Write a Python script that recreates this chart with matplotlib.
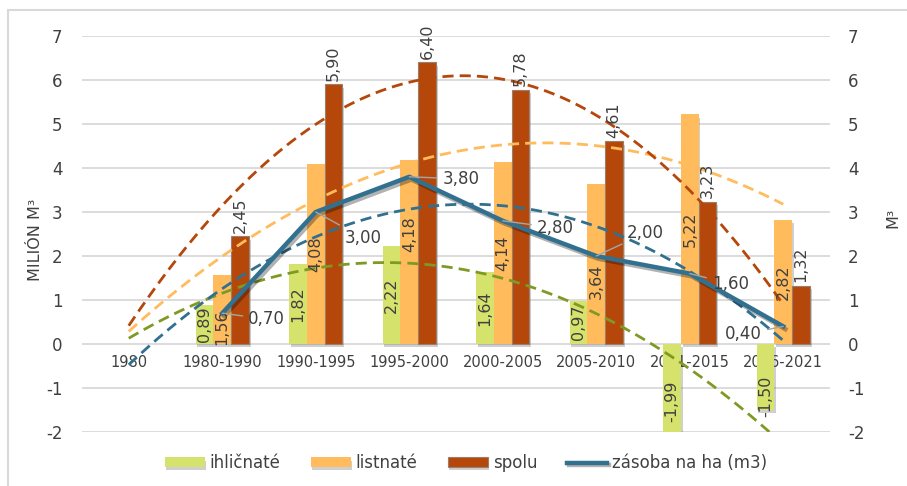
"""Zásoba dreva: prírastok ihličnaté / listnaté / spolu + zásoba na ha."""

import numpy as np
import matplotlib
matplotlib.use("Agg")
import matplotlib.pyplot as plt
import matplotlib.patheffects as pe
from matplotlib.patches import Rectangle

categories = ["1980", "1980-1990", "1990-1995", "1995-2000", "2000-2005",
              "2005-2010", "2011-2015", "2016-2021"]
ihlicnate = [0.89, 1.82, 2.22, 1.64, 0.97, -1.99, -1.50]
listnate = [1.56, 4.08, 4.18, 4.14, 3.64, 5.22, 2.82]
spolu = [2.45, 5.90, 6.40, 5.78, 4.61, 3.23, 1.32]
zasoba = [0.70, 3.00, 3.80, 2.80, 2.00, 1.60, 0.40]

C_GREEN = "#D5E26C"
C_ORANGE = "#FFBB5C"
C_RED = "#B5470B"
C_BLUE = "#31708F"
C_GREEN_TREND = "#7F9A24"
TXT = "#404040"

# manual label nudges (data units) and line-label offsets (pixels)
green_shift = [0, 0, 0, 0, 0, -0.3, -0.45]
orange_shift = [-0.4, 0, 0.4, 0, -0.4, 0, 0]
line_offsets = [(26, -6), (29, -26), (33, -2), (34, -7), (31, 23), (22, -10), (-58, -8)]

plt.rcParams["font.family"] = ["DejaVu Sans"]
plt.rcParams["axes.unicode_minus"] = False


def fmt(v):
    return f"{v:.2f}".replace(".", ",")


fig = plt.figure(figsize=(9.07, 4.86), dpi=100)
fig.patches.append(Rectangle((8 / 907, -0.1), 2, (486 - 10) / 486 + 0.1,
                             transform=fig.transFigure, fill=False,
                             edgecolor="#D9D9D9", lw=1.5))
ax = fig.add_axes([82 / 907, 54 / 486, 748 / 907, 396 / 486])
ax2 = ax.twinx()

x = np.arange(1, len(ihlicnate) + 1)
w = 0.19
shadow = [pe.SimplePatchShadow(offset=(1.2, -2.5), alpha=0.28, shadow_rgbFace="#555555"),
          pe.Normal()]

bars_g = ax.bar(x - w, ihlicnate, w, color=C_GREEN, label="ihličnaté", zorder=2)
bars_o = ax.bar(x, listnate, w, color=C_ORANGE, label="listnaté", zorder=2)
bars_r = ax.bar(x + w, spolu, w, color=C_RED, edgecolor="#9C7F6A", lw=0.8,
                label="spolu", zorder=2)
for b in list(bars_g) + list(bars_o) + list(bars_r):
    b.set_path_effects(shadow)

# polynomial (order 2) trendlines, drawn from the first category
xs = np.linspace(0, len(categories) - 1, 200)
for vals, col, a in [(ihlicnate, C_GREEN_TREND, ax), (listnate, C_ORANGE, ax),
                     (spolu, C_RED, ax), (zasoba, C_BLUE, ax2)]:
    coef = np.polyfit(x, vals, 2)
    a.plot(xs, np.polyval(coef, xs), color=col, lw=2, ls=(0, (4, 2.2)), zorder=3)

ax2.plot(x, zasoba, color=C_BLUE, lw=3.2, zorder=4, label="zásoba na ha (m3)",
         path_effects=[pe.SimpleLineShadow(offset=(1.5, -2), alpha=0.3), pe.Normal()])

# bar labels
for i, v in enumerate(ihlicnate):
    ax.text(x[i] - w, v / 2 + green_shift[i], fmt(v), rotation=90, ha="center",
            va="center", fontsize=11.5, color=TXT, zorder=5)
for i, v in enumerate(listnate):
    ax.text(x[i], v / 2 + orange_shift[i], fmt(v), rotation=90, ha="center",
            va="center", fontsize=11.5, color=TXT, zorder=5)
for i, v in enumerate(spolu):
    ax.text(x[i] + w, v + 0.08, fmt(v), rotation=90, ha="center",
            va="bottom", fontsize=11.5, color=TXT, zorder=5)

# line labels with leader lines
for i, v in enumerate(zasoba):
    dx, dy = line_offsets[i]
    ax2.annotate(fmt(v), (x[i], v), xytext=(dx, dy), textcoords="offset pixels",
                 ha="left", va="center", fontsize=12, color=TXT, zorder=6,
                 arrowprops=dict(arrowstyle="-", color="#A6A6A6", lw=1,
                                 shrinkA=2, shrinkB=0))

for a in (ax, ax2):
    a.set_ylim(-2, 7)
    a.set_yticks(range(-2, 8))
    a.tick_params(axis="y", length=0, labelsize=12, labelcolor=TXT)
    for s in a.spines.values():
        s.set_visible(False)
ax.set_xlim(-0.5, len(categories) - 0.5)
ax.tick_params(axis="y", pad=14)
ax2.tick_params(axis="y", pad=13)
ax.yaxis.grid(True, color="#D9D9D9", lw=1.3, zorder=0)
ax.set_axisbelow(True)

ax.spines["bottom"].set_position(("data", 0))
ax.set_xticks(range(len(categories)))
ax.set_xticklabels(categories, fontsize=10.5, color=TXT)
ax.tick_params(axis="x", length=0, pad=8)

fig.text(36 / 907, 1 - 240 / 486, "MILIÓN M³", rotation=90, ha="center",
         va="center", fontsize=11.5, color=TXT)
fig.text(893 / 907, 1 - 218 / 486, "M³", rotation=90, ha="center",
         va="center", fontsize=11.5, color=TXT)

h1, l1 = ax.get_legend_handles_labels()
h2, l2 = ax2.get_legend_handles_labels()
fig.legend(h1 + h2, l1 + l2, loc="center", bbox_to_anchor=(466 / 907, 1 - 463 / 486),
           ncol=4, frameon=False, fontsize=12, handlelength=2.4, handleheight=0.5,
           columnspacing=1.8, handletextpad=0.3, labelcolor=TXT)

fig.savefig("out.png", dpi=100)
